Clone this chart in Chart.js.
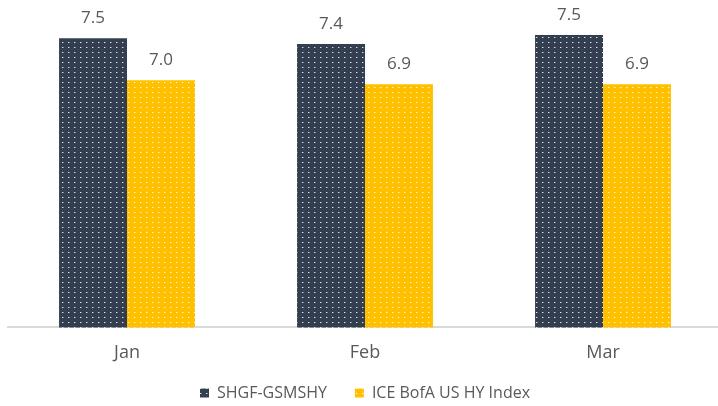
<!DOCTYPE html>
<html>
<head>
<meta charset="utf-8">
<script src="https://cdn.jsdelivr.net/npm/chart.js@4"></script>
<style>
  html, body { margin: 0; padding: 0; background: #fff; overflow: hidden; }
  #wrap { width: 722px; height: 406px; }
</style>
</head>
<body>
<div id="wrap"><canvas id="barChart"></canvas></div>
<script>
const months = ['Jan', 'Feb', 'Mar'];
const shgfValues = [7.48, 7.41, 7.52];
const iceValues = [6.97, 6.92, 6.92];
const seriesNames = ['SHGF-GSMSHY', 'ICE BofA US HY Index'];

// dotted fill like the excel pattern
function dots(base) {
  const c = document.createElement('canvas');
  c.width = 6; c.height = 5;
  const x = c.getContext('2d');
  x.fillStyle = base;
  x.fillRect(0, 0, 6, 5);
  x.fillStyle = 'rgba(255,255,255,0.85)';
  x.fillRect(2, 2, 1, 1);
  x.fillStyle = 'rgba(255,255,255,0.35)';
  x.fillRect(3, 2, 1, 1);
  return x.createPattern(c, 'repeat');
}

const navy = dots('#333f50');
const gold = dots('#ffc000');

const valueLabels = {
  id: 'valueLabels',
  afterDatasetsDraw(chart) {
    const ctx = chart.ctx;
    ctx.save();
    ctx.font = '17px "Open Sans", sans-serif';
    ctx.fillStyle = '#595959';
    ctx.textAlign = 'center';
    ctx.textBaseline = 'middle';
    chart.data.datasets.forEach((ds, i) => {
      chart.getDatasetMeta(i).data.forEach((bar, j) => {
        ctx.fillText(ds.data[j].toFixed(1), bar.x, bar.y - 20);
      });
    });
    ctx.restore();
  }
};

// keep the legend band short, padding is only wanted between the items
const legendHeight = {
  id: 'legendHeight',
  beforeInit(chart) {
    const lg = chart.legend;
    if (!lg) return;
    const fit = lg.fit;
    lg.fit = function () {
      fit.call(this);
      this.height = 35;
    };
    const draw = lg.draw;
    lg.draw = function () {
      if (!this.options.display) return;
      this.ctx.save();
      this.ctx.translate(0, -14);
      if (this._draw) this._draw(); else draw.call(this);
      this.ctx.restore();
    };
  }
};

const CHART = document.getElementById('barChart');
let barChart = new Chart(CHART, {
  type: 'bar',
  data: {
    labels: months,
    datasets: [
      {
        label: seriesNames[0],
        backgroundColor: navy,
        data: shgfValues
      }, {
        label: seriesNames[1],
        backgroundColor: gold,
        data: iceValues
      }
    ]
  },
  options: {
    responsive: true,
    maintainAspectRatio: false,
    animation: false,
    layout: { padding: { top: 24, left: 8, right: 0, bottom: 0 } },
    datasets: { bar: { categoryPercentage: 0.571, barPercentage: 1 } },
    scales: {
      x: {
        grid: { display: false },
        border: { color: '#d9d9d9', width: 2 },
        ticks: { color: '#595959', font: { family: 'Open Sans', size: 18 }, padding: 7 }
      },
      y: {
        display: false,
        min: 3.96,
        max: 7.655
      }
    },
    plugins: {
      tooltip: { enabled: false },
      legend: {
        position: 'bottom',
        labels: {
          boxWidth: 9,
          boxHeight: 9,
          padding: 28,
          color: '#595959',
          font: { family: 'Open Sans', size: 16 }
        }
      }
    }
  },
  plugins: [valueLabels, legendHeight]
});
</script>
</body>
</html>
